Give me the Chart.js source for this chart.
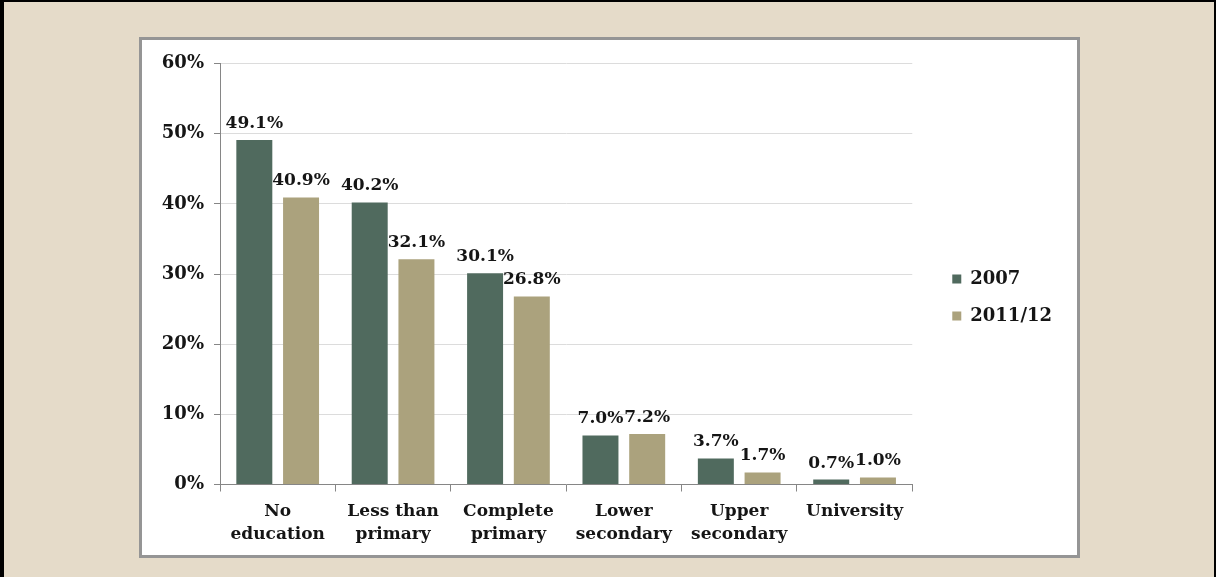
<!DOCTYPE html>
<html>
<head>
<meta charset="utf-8">
<script src="https://cdn.jsdelivr.net/npm/chart.js@4/dist/chart.umd.min.js"></script>
<style>
  html, body { margin: 0; padding: 0; }
  body { width: 1216px; height: 577px; background: #e5dbc9; position: relative; overflow: hidden; }
  #frame { position: absolute; left: 0; top: 0; width: 1216px; height: 577px; box-sizing: border-box;
           border-left: 4px solid #000; border-top: 2px solid #000; border-right: 2px solid #000; }
  #box { position: absolute; left: 139px; top: 37px; width: 935px; height: 515px;
         border: 3px solid #959595; background: #fff; }
  #chart { display: block; }
</style>
</head>
<body>
<div id="frame"></div>
<div id="box"><canvas id="chart" width="935" height="515"></canvas></div>
<script>
  const categories = [['No', 'education'], ['Less than', 'primary'], ['Complete', 'primary'],
                      ['Lower', 'secondary'], ['Upper', 'secondary'], ['University']];
  const values2007 = [49.1, 40.2, 30.1, 7.0, 3.7, 0.7];
  const values2011 = [40.9, 32.1, 26.8, 7.2, 1.7, 1.0];
  const seriesNames = ['2007', '2011/12'];
  const yTicks = [0, 10, 20, 30, 40, 50, 60];

  const serif = 'DejaVu Serif';
  const ink = '#151515';

  // value labels above each bar
  const barLabels = {
    id: 'barLabels',
    afterDatasetsDraw(chart) {
      const ctx = chart.ctx;
      ctx.save();
      ctx.font = 'bold 17px "' + serif + '"';
      ctx.fillStyle = ink;
      ctx.textAlign = 'center';
      ctx.textBaseline = 'bottom';
      chart.data.datasets.forEach((ds, i) => {
        chart.getDatasetMeta(i).data.forEach((bar, j) => {
          ctx.fillText(ds.data[j].toFixed(1) + '%', bar.x, bar.y - 8);
        });
      });
      ctx.restore();
    }
  };

  new Chart(document.getElementById('chart'), {
    type: 'bar',
    data: {
      labels: categories,
      datasets: [
        { label: seriesNames[0], data: values2007, backgroundColor: '#506a5e' },
        { label: seriesNames[1], data: values2011, backgroundColor: '#aba27d' }
      ]
    },
    options: {
      responsive: false,
      devicePixelRatio: 1,
      animation: false,
      categoryPercentage: 0.81,
      barPercentage: 0.77,
      layout: { padding: { top: 23.5, bottom: 0, left: 0, right: 15 } },
      plugins: {
        tooltip: { enabled: false },
        legend: {
          position: 'right',
          fullSize: false,
          title: { display: true, text: ' ', font: { size: 10, lineHeight: 1.2 }, padding: { top: 17.5, bottom: 17.5 } },
          labels: {
            boxWidth: 9, boxHeight: 9, padding: 19, color: ink,
            font: { family: serif, size: 18, weight: 'bold' }
          }
        }
      },
      scales: {
        x: {
          grid: { drawOnChartArea: false, tickLength: 7, color: '#868686' },
          border: { color: '#868686' },
          ticks: { color: ink, padding: 9, font: { family: serif, size: 17, weight: 'bold', lineHeight: 1.35 } },
          afterFit(scale) { scale.height = 70.5; }
        },
        y: {
          min: 0, max: 60,
          afterBuildTicks(scale) { scale.ticks = yTicks.map(v => ({ value: v })); },
          grid: { color: '#dcdcdc', tickColor: '#868686', tickLength: 6 },
          border: { color: '#868686' },
          ticks: { color: ink, padding: 10, callback: v => v + '%',
                   font: { family: serif, size: 18, weight: 'bold' } },
          afterFit(scale) { scale.width = 78; }
        },
        gap: {
          position: 'right', display: true,
          grid: { display: false }, border: { display: false }, ticks: { display: false },
          afterFit(scale) { scale.width = 21; }
        }
      }
    },
    plugins: [barLabels]
  });
</script>
</body>
</html>
